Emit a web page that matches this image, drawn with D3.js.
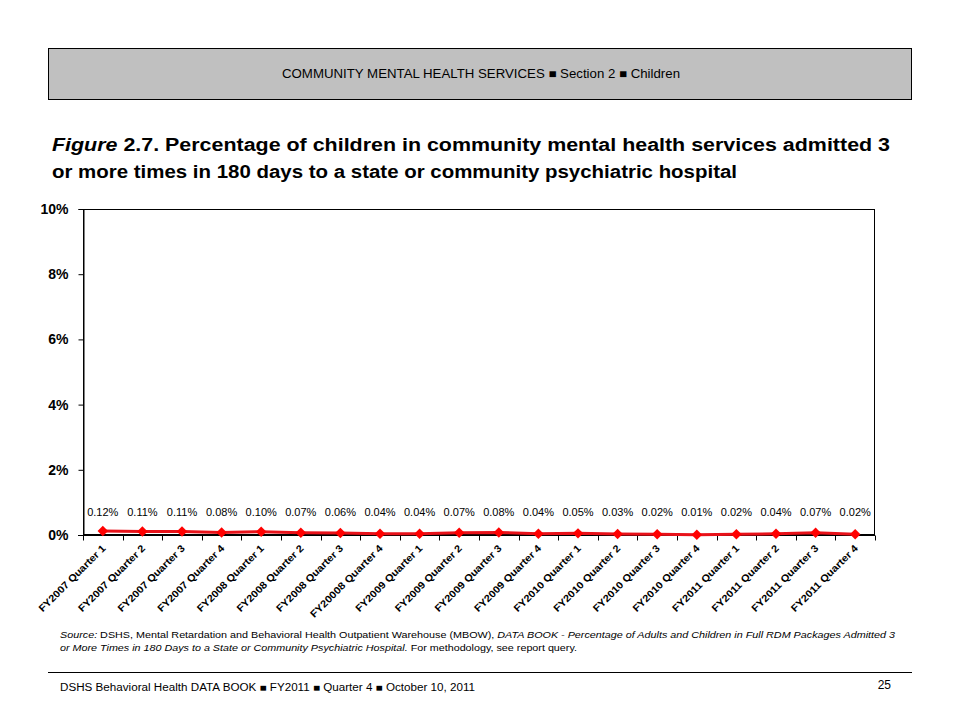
<!DOCTYPE html>
<meta charset="utf-8">
<style>
body{margin:0;background:#fff;font-family:Arial,"Liberation Sans",sans-serif;}
.axis text{font-family:Arial,"Liberation Sans",sans-serif;fill:#000;}
.ylab text{font-size:14px;font-weight:bold;}
.xlab text{font-size:10px;font-weight:bold;}
.vals{font-size:11px;}
</style>
<body>
<script src="https://d3js.org/d3.v7.min.js"></script>
<script>

var quarters=["FY2007 Quarter 1","FY2007 Quarter 2","FY2007 Quarter 3","FY2007 Quarter 4",
	"FY2008 Quarter 1","FY2008 Quarter 2","FY2008 Quarter 3","FY20008 Quarter 4",
	"FY2009 Quarter 1","FY2009 Quarter 2","FY2009 Quarter 3","FY2009 Quarter 4",
	"FY2010 Quarter 1","FY2010 Quarter 2","FY2010 Quarter 3","FY2010 Quarter 4",
	"FY2011 Quarter 1","FY2011 Quarter 2","FY2011 Quarter 3","FY2011 Quarter 4"];
var pct=[0.12,0.11,0.11,0.08,0.10,0.07,0.06,0.04,0.04,0.07,0.08,0.04,0.05,0.03,0.02,0.01,0.02,0.04,0.07,0.02];
var yTicks=[0,2,4,6,8,10];

var svg=d3.select("body").append("svg").attr("width",960).attr("height",720);

function fit(sel,len){
	return sel.attr("textLength",len).attr("lengthAdjust","spacingAndGlyphs");
}

// header box
svg.append("rect").attr("x",48.5).attr("y",48.5).attr("width",863).attr("height",51)
	.attr("fill","#c0c0c0").attr("stroke","#000").attr("stroke-width",1);
fit(svg.append("text").attr("x",282).attr("y",78)
	.style("font-size","12px")
	.text("COMMUNITY MENTAL HEALTH SERVICES  \u25A0  Section 2  \u25A0  Children"),398);

// title
var t=svg.append("text").attr("x",52).attr("y",151).style("font-size","18px").style("font-weight","bold");
fit(t,838);
t.append("tspan").style("font-style","italic").text("Figure ");
t.append("tspan").text("2.7.  Percentage of children in community mental health services admitted 3");
fit(svg.append("text").attr("x",52).attr("y",178).style("font-size","18px").style("font-weight","bold")
	.text("or more times in 180 days to a state or community psychiatric hospital"),685);

var pLeft=83,pRight=875,pTop=209,pBottom=535;
var x=d3.scaleBand().domain(quarters).range([pLeft,pRight]);
var y=d3.scaleLinear().domain([0,10]).range([pBottom,pTop]);

// plot frame
svg.append("rect").attr("x",pLeft+0.5).attr("y",pTop+0.5).attr("width",pRight-pLeft-1).attr("height",pBottom-pTop-1)
	.attr("fill","none").attr("stroke","#000");

svg.append("g").attr("class","axis ylab").attr("transform","translate("+(pLeft+0.5)+",0)")
	.call(d3.axisLeft(y).tickValues(yTicks).tickSize(5).tickPadding(10).tickFormat(d=>d+"%"))
	.call(g=>g.select(".domain").attr("stroke","#000"));

// x axis ticks at band edges
var xa=svg.append("g").attr("class","axis xlab").attr("transform","translate(0,"+(pBottom+0.5)+")");
xa.append("line").attr("x1",pLeft-5).attr("x2",pRight).attr("stroke","#000");
xa.selectAll(".tk").data(d3.range(quarters.length+1)).join("line")
	.attr("x1",i=>Math.round(pLeft+i*x.step())+0.5).attr("x2",i=>Math.round(pLeft+i*x.step())+0.5)
	.attr("y1",0).attr("y2",5).attr("stroke","#000");
xa.selectAll(".lbl").data(quarters).join("text")
	.attr("transform",d=>"translate("+(x(d)+x.bandwidth()/2+1)+",11) rotate(-45)")
	.attr("text-anchor","end").attr("dy","0.35em")
	.attr("textLength",d=>d.length>16?98:90).attr("lengthAdjust","spacingAndGlyphs")
	.text(d=>d);

var pts=quarters.map((q,i)=>[x(q)+x.bandwidth()/2,y(pct[i])]);

svg.append("path").attr("d",d3.line()(pts)).attr("fill","none")
	.attr("stroke","#e8121a").attr("stroke-width",3);

svg.selectAll(".mk").data(pts).join("path")
	.attr("transform",d=>"translate("+d[0]+","+d[1]+")")
	.attr("d",d3.symbol(d3.symbolDiamond2,70)).attr("fill","#ff0000");

svg.selectAll(".vl").data(pct).join("text").attr("class","vals")
	.attr("x",(d,i)=>pts[i][0]).attr("y",516)
	.attr("text-anchor","middle").text(d=>d.toFixed(2)+"%");

// source
var s1=fit(svg.append("text").attr("x",60).attr("y",638).style("font-size","9px"),835);
s1.append("tspan").style("font-style","italic").text("Source:");
s1.append("tspan").text(" DSHS, Mental Retardation and Behavioral Health Outpatient Warehouse (MBOW), ");
s1.append("tspan").style("font-style","italic").text("DATA BOOK - Percentage of Adults and Children in Full RDM Packages Admitted 3");
var s2=fit(svg.append("text").attr("x",60).attr("y",651).style("font-size","9px"),517);
s2.append("tspan").style("font-style","italic").text("or More Times in 180 Days to a State  or Community Psychiatric Hospital.");
s2.append("tspan").text(" For methodology, see report query.");

svg.append("line").attr("x1",48).attr("x2",912).attr("y1",672.5).attr("y2",672.5).attr("stroke","#000");
fit(svg.append("text").attr("x",60).attr("y",691).style("font-size","10px")
	.text("DSHS Behavioral Health DATA BOOK  \u25A0  FY2011  \u25A0  Quarter 4  \u25A0  October 10, 2011"),415);
svg.append("text").attr("x",891).attr("y",689).attr("text-anchor","end").style("font-size","12px").text("25");

</script>
</body>
